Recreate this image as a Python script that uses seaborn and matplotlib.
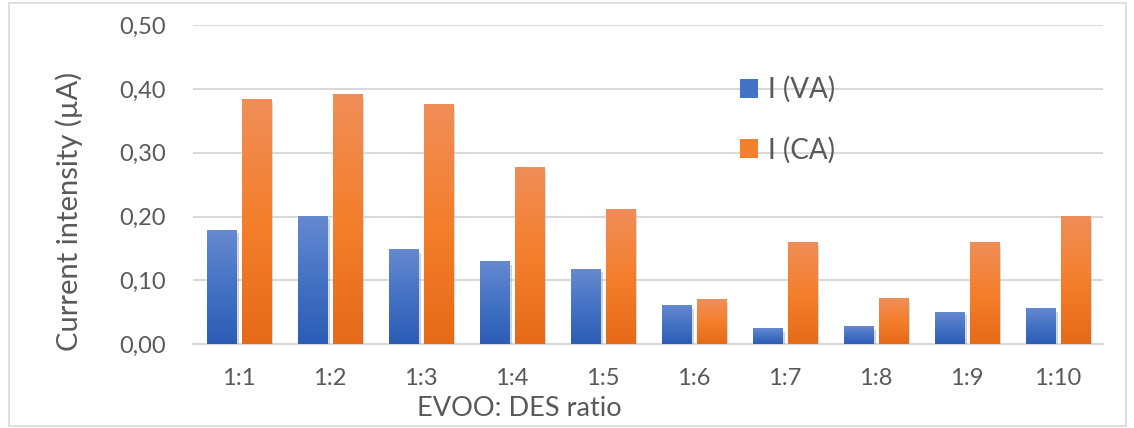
import numpy as np
import pandas as pd
import matplotlib
matplotlib.use("Agg")
import matplotlib.pyplot as plt
import matplotlib.patheffects as pe
from matplotlib.colors import LinearSegmentedColormap, to_rgb
from matplotlib.patches import Patch, Rectangle
import seaborn as sns

# Data
ratios = ["1:1", "1:2", "1:3", "1:4", "1:5", "1:6", "1:7", "1:8", "1:9", "1:10"]
i_va = [0.178, 0.200, 0.148, 0.129, 0.117, 0.060, 0.024, 0.027, 0.050, 0.055]
i_ca = [0.383, 0.390, 0.375, 0.276, 0.211, 0.069, 0.159, 0.072, 0.159, 0.200]
series = ["I (VA)", "I (CA)"]
y_ticks = [0.0, 0.1, 0.2, 0.3, 0.4, 0.5]

df = pd.DataFrame({
    "ratio": ratios * 2,
    "value": i_va + i_ca,
    "series": [series[0]] * len(ratios) + [series[1]] * len(ratios),
})

blue_stops = ["#6689d0", "#4472c4", "#2c5cb6"]
orange_stops = ["#f08e58", "#f47f2c", "#e66a18"]
palette = {series[0]: blue_stops[1], series[1]: orange_stops[1]}

sns.set_theme(style="white")
plt.rcParams["font.family"] = ["Lato", "DejaVu Sans"]
text_grey = "#595959"

fig = plt.figure(figsize=(11.34, 4.28), dpi=100)
ax = fig.add_axes([0.1706, 0.1956, 0.8025, 0.7460])

sns.barplot(data=df, x="ratio", y="value", hue="series", order=ratios,
            hue_order=series, palette=palette, width=0.75, gap=0.15,
            legend=False, ax=ax, zorder=3)

# Replace flat fills with a vertical gradient and a soft drop shadow
grad = np.linspace(0, 1, 256).reshape(-1, 1)
cmaps = {
    to_rgb(blue_stops[1]): LinearSegmentedColormap.from_list("b", blue_stops[::-1]),
    to_rgb(orange_stops[1]): LinearSegmentedColormap.from_list("o", orange_stops[::-1]),
}
for bar in list(ax.patches):
    x0, y0 = bar.get_x(), bar.get_y()
    w, h = bar.get_width(), bar.get_height()
    fc = bar.get_facecolor()[:3]
    key = min(cmaps, key=lambda k: sum((a - b) ** 2 for a, b in zip(k, fc)))
    bar.set_path_effects([pe.SimplePatchShadow(offset=(2, -2), shadow_rgbFace="#7f7f7f", alpha=0.35),
                          pe.Normal()])
    ax.imshow(grad, cmap=cmaps[key], extent=(x0, x0 + w, y0, y0 + h), origin="lower",
              aspect="auto", zorder=4, interpolation="bilinear")

ax.set_xlim(-0.5, len(ratios) - 0.5)
ax.set_ylim(0, 0.5)
ax.set_yticks(y_ticks)
ax.set_yticklabels([f"{t:.2f}".replace(".", ",") for t in y_ticks])
ax.yaxis.grid(True, color="#d9d9d9", linewidth=1.5, zorder=0)
ax.set_axisbelow(True)
for s in ["top", "right", "left"]:
    ax.spines[s].set_visible(False)
ax.spines["bottom"].set_color("#d9d9d9")
ax.spines["bottom"].set_linewidth(1.5)
ax.tick_params(axis="both", length=0, labelsize=17, colors=text_grey)
ax.tick_params(axis="y", pad=20)
ax.tick_params(axis="x", pad=17)

ax.set_xlabel("")
ax.set_ylabel("")
fig.text(69 / 1134, 1 - 211 / 428, "Current intensity (µA)", fontsize=21,
         color=text_grey, ha="center", va="center", rotation=90)
fig.text(519 / 1134, 1 - 408 / 428, "EVOO: DES ratio", fontsize=19.5,
         color=text_grey, ha="center", va="center")

handles = [Patch(facecolor=blue_stops[1], edgecolor="none"),
           Patch(facecolor=orange_stops[1], edgecolor="none")]
leg = ax.legend(handles, series, loc="upper left", bbox_to_anchor=(0.573, 0.918),
                frameon=False, fontsize=20, labelcolor=text_grey,
                handlelength=0.65, handleheight=0.65, handletextpad=0.35,
                labelspacing=1.2)

# Chart border
fig.patches.append(Rectangle((9 / 1134, 2 / 428), 1117 / 1134, 423 / 428,
                             transform=fig.transFigure, fill=False,
                             edgecolor="#d9d9d9", linewidth=1.2))

fig.savefig("out.png", dpi=100, facecolor="white")
